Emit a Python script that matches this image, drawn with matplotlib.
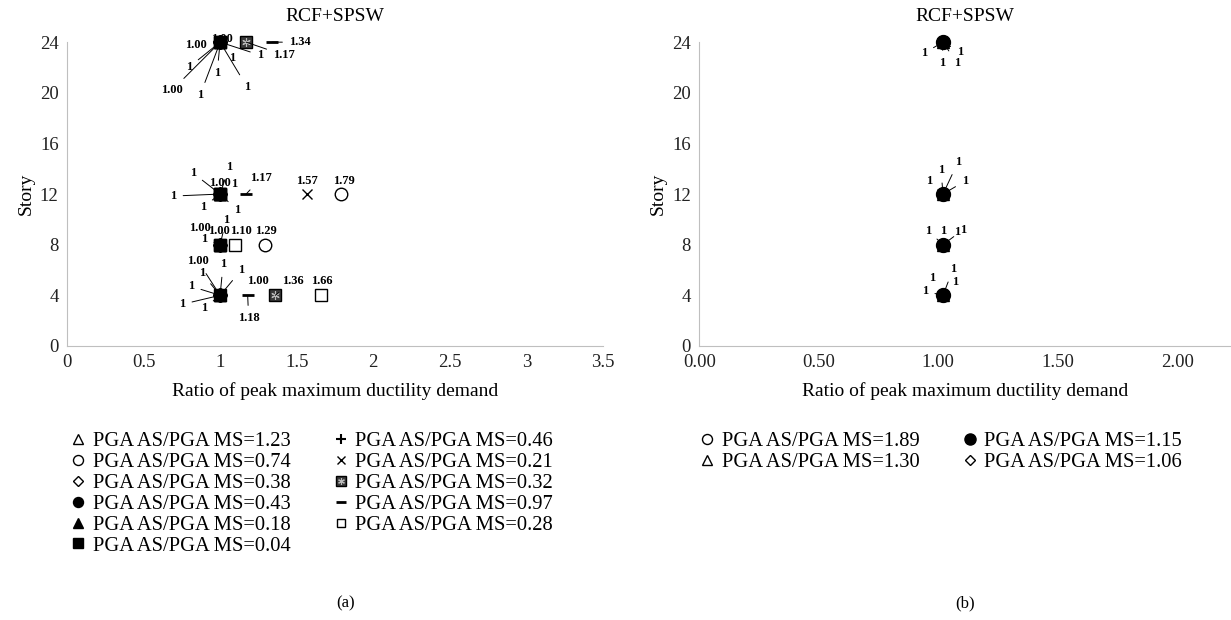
import matplotlib.pyplot as plt

plt.rcParams["font.family"] = ["Liberation Serif", "DejaVu Serif"]

# Stories at which the ratios were evaluated
stories = [4, 8, 12, 24]

# Panel (a): ratio of peak maximum ductility demand, one list per PGA AS/PGA MS ratio
a_labels = ["1.23", "0.74", "0.38", "0.43", "0.18", "0.04",
            "0.46", "0.21", "0.32", "0.97", "0.28"]
a_123 = [1.00, 1.00, 1.00, 1.00]
a_074 = [1.00, 1.29, 1.79, 1.00]
a_038 = [1.00, 1.00, 1.00, 1.00]
a_043 = [1.00, 1.00, 1.00, 1.00]
a_018 = [1.00, 1.00, 1.00, 1.00]
a_004 = [1.00, 1.00, 1.00, 1.00]
a_046 = [1.00, 1.00, 1.00, 1.00]
a_021 = [1.00, 1.00, 1.57, 1.00]
a_032 = [1.36, 1.00, 1.00, 1.17]
a_097 = [1.18, 1.00, 1.17, 1.34]
a_028 = [1.66, 1.10, 1.00, 1.00]
a_values = [a_123, a_074, a_038, a_043, a_018, a_004,
            a_046, a_021, a_032, a_097, a_028]

# Panel (b)
b_labels = ["1.89", "1.30", "1.15", "1.06"]
b_189 = [1.02, 1.02, 1.02, 1.02]
b_130 = [1.02, 1.02, 1.02, 1.02]
b_115 = [1.02, 1.02, 1.02, 1.02]
b_106 = [1.02, 1.02, 1.02, 1.02]
b_values = [b_189, b_130, b_115, b_106]

# Point labels: (series index, story index, text, dx px, dy px, leader line)
a_notes = [
    (0, 3, "1.00", -24, -3, False), (1, 3, "1", -31, -25, True),
    (2, 3, "1.00", -48, -48, True), (3, 3, "1", -20, -53, True),
    (4, 3, "1", -3, -31, True), (5, 3, "1", 12, -16, True),
    (6, 3, "1", 27, -45, True), (7, 3, "1", 40, -13, True),
    (8, 3, "1.17", 38, -13, True), (9, 3, "1.34", 28, 0, True),
    (10, 3, "1.00", 2, 3, False),
    (0, 2, "1", -27, 21, True), (2, 2, "1", 9, 27, True),
    (3, 2, "1.00", 0, 11, False), (4, 2, "1", 14, 10, False),
    (5, 2, "1", -47, -2, True), (6, 2, "1", -17, -13, True),
    (8, 2, "1", 17, -16, True), (9, 2, "1.17", 15, 16, True),
    (7, 2, "1.57", 0, 13, False), (1, 2, "1.79", 3, 13, False),
    (0, 1, "1.00", -20, 17, False), (2, 1, "1", -16, 6, True),
    (3, 1, "1", 6, 25, True), (4, 1, "1.00", -1, 14, False),
    (10, 1, "1.10", 6, 14, False), (1, 1, "1.29", 1, 14, False),
    (0, 0, "1.00", -22, 34, True), (2, 0, "1", 3, 31, True),
    (3, 0, "1", 21, 25, True), (4, 0, "1", -18, 22, True),
    (5, 0, "1", -29, 9, True), (6, 0, "1", -38, -9, True),
    (7, 0, "1", -16, -13, True), (1, 0, "1.00", 38, 14, False),
    (9, 0, "1.18", 1, -23, True), (8, 0, "1.36", 18, 14, True),
    (10, 0, "1.66", 1, 14, False),
]
b_notes = [
    (0, 3, "1", -19, -11, True), (1, 3, "1", 17, -10, True),
    (2, 3, "1", -1, -21, True), (3, 3, "1", 14, -21, True),
    (0, 2, "1", -14, 13, True), (1, 2, "1", -2, 24, True),
    (2, 2, "1", 15, 32, True), (3, 2, "1", 22, 13, True),
    (0, 1, "1", -15, 14, True), (1, 1, "1", 0, 14, True),
    (2, 1, "1", 14, 13, True), (3, 1, "1", 20, 15, True),
    (0, 0, "1", 10, 26, True), (1, 0, "1", -11, 17, True),
    (2, 0, "1", 12, 13, True), (3, 0, "1", -18, 4, True),
]

open_kw = dict(mfc="white", mec="black", mew=1.0)
fill_kw = dict(mfc="black", mec="black")
a_styles = [
    dict(marker="^", ms=9, **open_kw),
    dict(marker="o", ms=9, **open_kw),
    dict(marker="D", ms=7, **open_kw),
    dict(marker="o", ms=9, **fill_kw),
    dict(marker="^", ms=9, **fill_kw),
    dict(marker="s", ms=9, zorder=5, **fill_kw),
    dict(marker="+", ms=9, mec="black", mew=1.5),
    dict(marker="x", ms=7, mec="black", mew=1.0),
    dict(marker="s", ms=9, mfc="#3a3a3a", mec="black"),
    dict(marker="_", ms=9, mec="black", mew=2.0),
    dict(marker="s", ms=8, **open_kw),
]
b_styles = [
    dict(marker="o", ms=9, **open_kw),
    dict(marker="^", ms=9, **open_kw),
    dict(marker="o", ms=10, zorder=5, **fill_kw),
    dict(marker="D", ms=7, **open_kw),
]


def style_axes(ax, xlim, xticks, fmt):
    ax.set_xlim(*xlim)
    ax.set_ylim(0, 24)
    ax.set_xticks(xticks)
    ax.set_xticklabels([fmt.format(t) for t in xticks])
    ax.set_yticks(range(0, 25, 4))
    ax.tick_params(length=0, labelsize=13.5, colors="#222222", pad=6)
    for side in ("top", "right"):
        ax.spines[side].set_visible(False)
    for side in ("left", "bottom"):
        ax.spines[side].set_color("#bfbfbf")
    ax.set_title("RCF+SPSW", fontsize=14, pad=15)
    ax.set_xlabel("Ratio of peak maximum ductility demand", fontsize=14, labelpad=8)
    ax.set_ylabel("Story", fontsize=14, labelpad=4)


def plot_panel(ax, values, styles):
    handles = []
    for vals, st in zip(values, styles):
        (line,) = ax.plot(vals, stories, linestyle="none", clip_on=False, **st)
        handles.append(line)
        if st.get("mfc") == "#3a3a3a":
            (star,) = ax.plot(vals, stories, linestyle="none", marker=(6, 2, 0),
                              ms=6, mec="#bbbbbb", mew=0.8, clip_on=False)
            handles[-1] = (line, star)
    return handles


def annotate_panel(ax, values, notes):
    for si, k, text, dx, dy, leader in notes:
        ax.annotate(text, (values[si][k], stories[k]),
                    xytext=(dx * 0.72, dy * 0.72), textcoords="offset points",
                    ha="center", va="center", fontsize=9, fontweight="bold",
                    zorder=6,
                    arrowprops=dict(arrowstyle="-", lw=0.7, color="black",
                                    shrinkA=3, shrinkB=0) if leader else None)


fig = plt.figure(figsize=(12.31, 6.2), dpi=100)
ax_a = fig.add_axes([0.0544, 0.442, 0.4354, 0.490])
ax_b = fig.add_axes([0.568, 0.442, 0.432, 0.490])

style_axes(ax_a, (0, 3.5), [0, 0.5, 1, 1.5, 2, 2.5, 3, 3.5], "{:g}")
style_axes(ax_b, (0, 2.225), [0, 0.5, 1.0, 1.5, 2.0], "{:.2f}")

ha = plot_panel(ax_a, a_values, a_styles)
hb = plot_panel(ax_b, b_values, b_styles)
annotate_panel(ax_a, a_values, a_notes)
annotate_panel(ax_b, b_values, b_notes)

leg_kw = dict(frameon=False, fontsize=14.8, ncol=2, handlelength=0.9,
              handletextpad=0.25, columnspacing=2.0, labelspacing=0.07,
              markerscale=0.8, loc="upper left")
fig.legend(ha, ["PGA AS/PGA MS=" + s for s in a_labels],
           bbox_to_anchor=(0.041, 0.333), **leg_kw)
fig.legend(hb, ["PGA AS/PGA MS=" + s for s in b_labels],
           bbox_to_anchor=(0.552, 0.333), **leg_kw)

fig.text(0.2805, 0.026, "(a)", ha="center", va="center", fontsize=12)
fig.text(0.784, 0.026, "(b)", ha="center", va="center", fontsize=12)

fig.savefig("out.png", dpi=100)
